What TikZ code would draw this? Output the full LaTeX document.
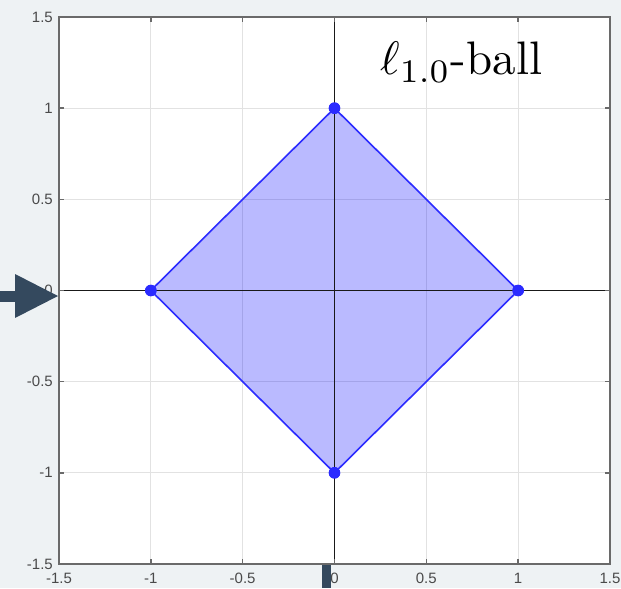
\RequirePackage{fix-cm}
\documentclass[tikz,border=0pt]{standalone}
\usepackage{amsmath}
\usepackage{graphicx}
\usepackage{fontspec}
\newfontfamily\ticksans{Liberation Sans}
\definecolor{pagebg}{HTML}{EEF2F4}
\definecolor{slate}{HTML}{34495E}
\definecolor{balledge}{HTML}{2B2BFF}
\definecolor{gridgray}{HTML}{E2E2E2}
\definecolor{framegray}{HTML}{6A6A6A}
\definecolor{ticktext}{HTML}{4A4A4A}
\tikzset{
    ticklabel/.style={inner sep=0pt, text=ticktext, font=\ticksans\fontsize{15}{16}\selectfont},
    ballpt/.style={circle, fill=balledge, inner sep=0pt, minimum size=11.5pt},
    gridline/.style={draw=gridgray, line width=1pt},
    axisline/.style={draw=black!90, line width=1.8pt},
}

\begin{document}
\begin{tikzpicture}[x=183.67pt, y=182.33pt]
        \useasboundingbox (-1.8212,-1.6317) rectangle (1.5599,1.5933);
        \fill[pagebg] (-1.8212,-1.6317) rectangle (1.5599,1.5933);
        \fill[white] (-1.5,-1.5) rectangle (1.5,1.5);

        % grid
        \foreach \t in {-1,-0.5,0.5,1} {
            \draw[gridline] (\t,-1.5) -- (\t,1.5);
            \draw[gridline] (-1.5,\t) -- (1.5,\t);
        }

        % the ball
        \node[ballpt] (east) at (1,0) {};
        \node[ballpt] (north) at (0,1) {};
        \node[ballpt] (west) at (-1,0) {};
        \node[ballpt] (south) at (0,-1) {};
        \fill[blue, fill opacity=0.27] (east.center) -- (north.center) -- (west.center) -- (south.center) -- cycle;

        \draw[axisline] (0,-1.5) -- (0,1.5);
        \draw[axisline] (-1.5,0) -- (1.5,0);

        \draw[balledge, line width=1.6pt, line join=round] (east.center) -- (north.center) -- (west.center) -- (south.center) -- cycle;
        \node[ballpt] at (east) {};
        \node[ballpt] at (north) {};
        \node[ballpt] at (west) {};
        \node[ballpt] at (south) {};

        % frame and ticks
        \draw[framegray, line width=2pt] (-1.5,-1.5) rectangle (1.5,1.5);
        \foreach \t in {-1,-0.5,0,0.5,1} {
            \draw[framegray, line width=1.5pt] (\t,-1.5) -- ++(0,0.027);
            \draw[framegray, line width=1.5pt] (\t,1.5) -- ++(0,-0.027);
            \draw[framegray, line width=1.5pt] (-1.5,\t) -- ++(0.027,0);
            \draw[framegray, line width=1.5pt] (1.5,\t) -- ++(-0.027,0);
        }
        \foreach \t in {-1.5,-1,-0.5,0,0.5,1,1.5} {
            \node[ticklabel, anchor=east] (ylab\t) at ([xshift=-6pt]-1.5,\t) {\t};
            \node[ticklabel, anchor=north] (xlab\t) at ([yshift=-9pt]\t,-1.5) {\t};
        }

        \node[anchor=base west, inner sep=0pt] (title) at (0.2477,1.182) {\scalebox{4.7}{$\ell_{1.0}$-ball}};

        % marker shapes
        \fill[slate] (-1.8212,-0.0614) rectangle (-1.7395,-0.0011);
        \fill[slate] (-1.7395,-0.1508) -- (-1.5054,-0.0302) -- (-1.7395,0.0905) -- cycle;
        \fill[slate] (-0.0681,-1.6317) rectangle (-0.0191,-1.5055);
\end{tikzpicture}
\end{document}
